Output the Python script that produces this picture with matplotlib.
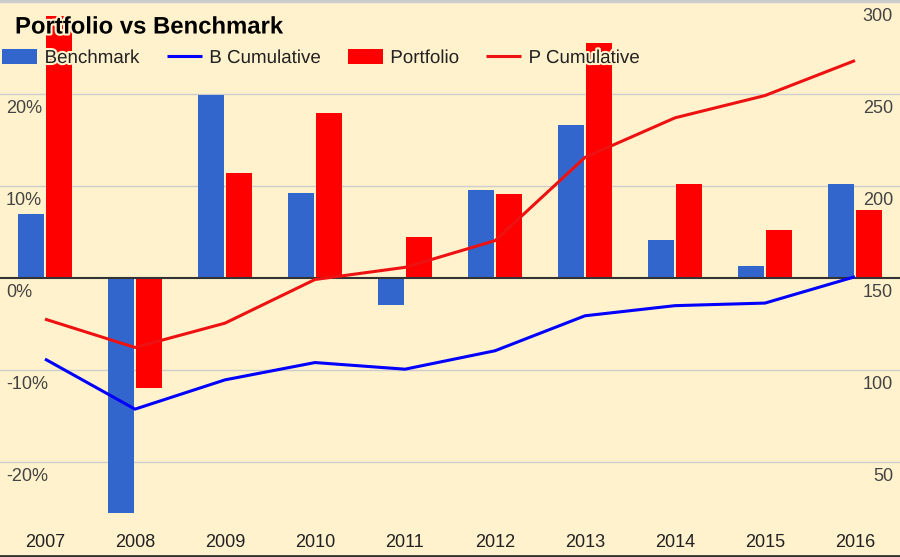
import matplotlib
matplotlib.use("Agg")
from matplotlib import pyplot as plt
from matplotlib.lines import Line2D
import matplotlib.patheffects as pe
import matplotlib.transforms as mtransforms
import numpy as np

plt.rcParams['font.family'] = ['Liberation Sans', 'DejaVu Sans']

years = ['2007', '2008', '2009', '2010', '2011', '2012', '2013', '2014', '2015', '2016']
benchmark = [0.070, -0.256, 0.199, 0.093, -0.029, 0.096, 0.166, 0.041, 0.013, 0.102]
portfolio = [0.285, -0.119, 0.114, 0.179, 0.045, 0.091, 0.256, 0.102, 0.052, 0.074]
b_cum = [106.1, 78.9, 94.8, 104.2, 100.6, 110.6, 129.6, 135.1, 136.5, 150.8]
p_cum = [127.8, 112.4, 125.6, 149.3, 155.9, 170.4, 215.6, 237.1, 249.2, 268.2]

left_ticks = [-0.2, -0.1, 0.0, 0.1, 0.2]
left_labels = ['-20%', '-10%', '0%', '10%', '20%']
right_ticks = [50, 100, 150, 200, 250, 300]

bg = '#FFF2CC'
W, H = 900, 557
fig = plt.figure(figsize=(9, 5.57), dpi=100, facecolor=bg)

# plot area: top at y=2px, bottom at y=513px, full width
ax = fig.add_axes([0, (H - 513) / H, 1, (513 - 2) / H])
ax.set_facecolor(bg)
lo, hi = -0.255, 0.30
ax.set_ylim(lo, hi)
x = np.arange(len(years))
ax.set_xlim(-0.5, len(years) - 0.5)

bw = 0.295
off = 0.157
ax.bar(x - off, benchmark, bw, color='#3366CC', label='Benchmark', zorder=2)
ax.bar(x + off, portfolio, bw, color='#FF0000', label='Portfolio', zorder=2)

for t in left_ticks + [0.3]:
    if t == 0.0:
        continue
    ax.axhline(t, color='#CCCCCC', lw=1, zorder=1)
ax.axhline(0, color='#333333', lw=1.5, zorder=3)

for s in ax.spines.values():
    s.set_visible(False)
ax.set_yticks([])
ax.set_xticks(x)
ax.set_xticklabels(years, fontsize=13, color='#222222')
ax.tick_params(axis='x', length=0, pad=15)

# left tick labels, just under the gridlines
trans_l = ax.get_yaxis_transform() + mtransforms.ScaledTranslation(6 / 100, -6 / 100, fig.dpi_scale_trans)
for t, lab in zip(left_ticks, left_labels):
    ax.text(0, t, lab, transform=trans_l, ha='left', va='top', fontsize=13, color='#444444')

ax2 = ax.twinx()
ax2.set_ylim(150 + 500 * lo, 150 + 500 * hi)
ax2.plot(x, b_cum, color='#0000FF', lw=2.2, label='B Cumulative', solid_joinstyle='round', solid_capstyle='butt')
ax2.plot(x, p_cum, color='#EE1111', lw=2.2, label='P Cumulative', solid_joinstyle='round', solid_capstyle='butt')
for s in ax2.spines.values():
    s.set_visible(False)
ax2.set_yticks([])
trans_r = ax2.get_yaxis_transform() + mtransforms.ScaledTranslation(-7 / 100, -6 / 100, fig.dpi_scale_trans)
for t in right_ticks:
    ax2.text(1, t, str(t), transform=trans_r, ha='right', va='top', fontsize=13, color='#444444')

halo = [pe.withStroke(linewidth=3, foreground=bg)]

h1, l1 = ax.get_legend_handles_labels()
h2, l2 = ax2.get_legend_handles_labels()
handles = [h1[0], h2[0], h1[1], h2[1]]
labels = [l1[0], l2[0], l1[1], l2[1]]
leg = ax2.legend(handles, labels, ncol=4, frameon=False, fontsize=13.5,
                 loc='center left', bbox_to_anchor=(2 / W, 1 - 58 / H),
                 bbox_transform=fig.transFigure, borderpad=0, borderaxespad=0,
                 handlelength=1.87, handleheight=0.85, handletextpad=0.4,
                 columnspacing=1.45)
for txt in leg.get_texts():
    txt.set_color('#222222')
    txt.set_path_effects(halo)

fig.text(15 / W, 1 - 27 / H, 'Portfolio vs Benchmark', fontsize=17.2, fontweight='bold',
         ha='left', va='center', color='black', path_effects=halo)

fig.add_artist(Line2D([0, 1], [1 - 0.5 / H, 1 - 0.5 / H], transform=fig.transFigure, color='#CCCCCC', lw=1.5))
fig.add_artist(Line2D([0, 1], [1 / H, 1 / H], transform=fig.transFigure, color='#333333', lw=2))

fig.savefig('out.png', dpi=100, facecolor=bg)
